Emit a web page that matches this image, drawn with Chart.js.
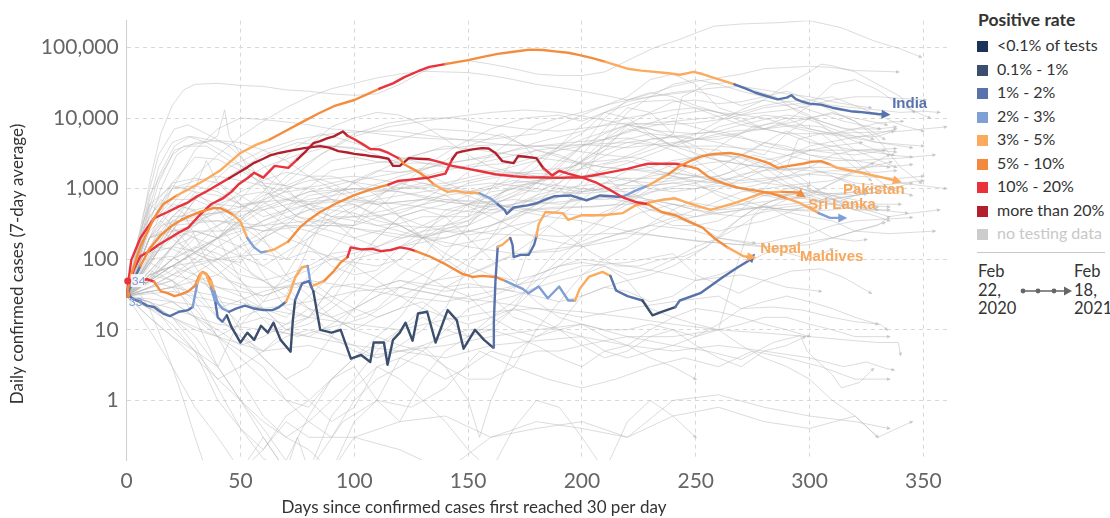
<!DOCTYPE html>
<html>
<head>
<meta charset="utf-8">
<script src="https://cdn.jsdelivr.net/npm/chart.js@4"></script>
<style>
  body { margin: 0; background: #fff; font-family: Lato, sans-serif; }
  #wrap { position: relative; width: 1110px; height: 518px; overflow: hidden; }
  #chart { position: absolute; left: 0; top: 0; }
  #legend { position: absolute; left: 977px; top: 0; width: 133px; color: #333; }
  #legend .ttl { position: absolute; top: 9px; left: 1px; font-weight: bold; font-size: 17.5px; white-space: nowrap; }
  #legend .it { position: absolute; left: 0; height: 20px; line-height: 20px; font-size: 16px; white-space: nowrap; }
  #legend .sw { display: inline-block; width: 11px; height: 11px; margin-right: 9px; vertical-align: -1px; }
  #legend .rule { position: absolute; left: 0; top: 252px; width: 128px; border-top: 1px solid #c8c8c8; }
  .time { position: absolute; top: 262px; font-size: 16.5px; line-height: 18.5px; color: #333; }
  #arrow { position: absolute; left: 1019px; top: 285px; }
</style>
</head>
<body>
<div id="wrap">
  <canvas id="chart" width="965" height="518"></canvas>
  <div id="legend">
    <div class="ttl">Positive rate</div>
    <div class="it" style="top:35px"><span class="sw" style="background:#1b3358"></span>&lt;0.1% of tests</div>
    <div class="it" style="top:58.5px"><span class="sw" style="background:#3c4e6d"></span>0.1% - 1%</div>
    <div class="it" style="top:82px"><span class="sw" style="background:#5873ab"></span>1% - 2%</div>
    <div class="it" style="top:105.5px"><span class="sw" style="background:#7f9fd5"></span>2% - 3%</div>
    <div class="it" style="top:129px"><span class="sw" style="background:#fbaa5e"></span>3% - 5%</div>
    <div class="it" style="top:152.5px"><span class="sw" style="background:#f2893d"></span>5% - 10%</div>
    <div class="it" style="top:176px"><span class="sw" style="background:#e8323c"></span>10% - 20%</div>
    <div class="it" style="top:199.5px"><span class="sw" style="background:#b3202d"></span>more than 20%</div>
    <div class="it" style="top:223px;color:#c8c8c8"><span class="sw" style="background:#cccccc"></span>no testing data</div>
    <div class="rule"></div>
  </div>
  <div class="time" style="left:978px">Feb<br>22,<br>2020</div>
  <svg id="arrow" width="54" height="12">
    <line x1="3" y1="6" x2="46" y2="6" stroke="#666" stroke-width="1.4"/>
    <circle cx="4" cy="6" r="2.4" fill="#666"/>
    <circle cx="19" cy="6" r="2.4" fill="#666"/>
    <circle cx="35" cy="6" r="2.4" fill="#666"/>
    <polygon points="45,1.5 53,6 45,10.5" fill="#666"/>
  </svg>
  <div class="time" style="left:1074px">Feb<br>18,<br>2021</div>
</div>

<script>
// positive-rate bands: <0.1, 0.1-1, 1-2, 2-3, 3-5, 5-10, 10-20, >20
const rateColors = ['#1b3358', '#3c4e6d', '#5873ab', '#7f9fd5', '#fbaa5e', '#f48c3e', '#e8323c', '#b3202d'];

const xTicks = [0, 50, 100, 150, 200, 250, 300, 350];
const yTicks = [1, 10, 100, 1000, 10000, 100000];

const indiaDays = [0,2,6,12,16,22,27,34,41,50, 57,63,70,76,84,91,100,106,111,117, 122,128,133,140,150,157,163,170,177,183, 188,194,199,205,210,215,220,226,232,238, 243,246,249,253,258,263,267,272,276,281, 286,290,292,294,297,300,305,310,314,318, 322,326,330,334];
const indiaCases = [32,60,150,380,600,800,970,1300,1800,3200, 4200,5000,6600,8400,11500,14700,18000,22000,26000,31000, 38000,46000,53000,58000,66000,74000,81000,87000,93000,92000, 88000,84000,78000,70000,63000,56000,50000,47000,45000,43000, 41000,43000,45000,42000,37000,33000,30000,26000,23000,20500, 18400,19500,21000,18500,17000,16000,15500,14000,13200,12500, 12200,11800,11400,11200];
const indiaRate = [5,5,5,5,5,5,4,4,4,4, 4,4,5,5,5,5,5,5,5,6, 6,6,6,6,5,5,5,5,5,5, 5,5,5,5,5,4,4,4,4,4, 4,4,4,4,4,4,4,2,2,2, 2,2,2,2,2,2,2,2,2,2, 2,2,2,2];

const pakDays = [0,3,6,10,14,19,23,27,32,37, 42,46,49,53,56,60,65,71,75,78, 82,85,88,91,95,97,100,104,107,111, 115,120,122,125,129,132,135,138,141,145, 149,152,155,160,163,166,167,170,173,176, 180,183,188,192,195,199,202,205,208,213, 217,220,223,229,233,238,243,248,253,258, 265,270,277,282,286,291,297,301,305,309, 312,316,320,324,327,333,339];
const pakCases = [32,70,110,130,160,200,240,280,420,600, 720,900,1140,1400,1680,1430,2100,1970,2600,3200, 4400,4700,5150,5500,6450,5600,5000,4200,3640,3600, 3200,2630,2200,1950,1650,1400,1150,1000,900,930, 870,880,860,720,600,500,440,540,560,580, 620,680,780,790,800,730,680,740,800,780, 760,820,920,1100,1300,1600,2100,2500,2900,3100, 3200,3000,2600,2300,1970,2100,2250,2400,2450,2200, 1970,1850,1750,1650,1560,1420,1270];
const pakRate = [6,6,6,6,6,6,6,6,6,6, 6,6,6,6,6,6,6,6,6,7, 7,7,7,7,7,7,6,6,6,6, 6,6,5,5,5,5,5,4,4,4, 4,4,4,3,3,2,2,2,2,2, 2,2,2,2,2,2,2,2,2,2, 2,3,3,3,4,4,5,5,5,5, 5,5,5,5,5,5,5,5,5,5, 4,4,4,4,4,4,4];

const bgdDays = [0,2,6,12,18,23,27,31,35,41, 45,49,53,56,60,63,67,71,75,78, 82,85,89,93,97,100,104,107,111,115, 117,120,124,128,133,138,143,150,156,162, 170,176,183,190,195,200,206,212,220,225, 229,235,241,246,251,256,262,268,275,283, 290,295,300,304,309,315];
const bgdCases = [32,97,200,380,466,560,640,780,910,1180, 1400,1680,2000,2320,2650,2960,3200,3400,3600,3750, 3900,4000,3800,3400,3250,3100,3000,2900,2800,2650, 2100,2100,2700,2650,2600,2350,2100,1900,1750,1600, 1500,1450,1440,1420,1440,1440,1560,1700,1900,2100, 2250,2250,2250,2100,1900,1430,1200,1040,950,860, 730,640,530,450,385,385];
const bgdRate = [6,6,6,6,6,6,6,6,6,6, 6,7,7,7,7,7,7,7,7,7, 7,7,7,7,7,7,7,7,7,7, 7,7,7,7,7,6,6,6,6,6, 6,6,6,6,6,6,6,6,6,6, 6,6,6,6,5,5,5,5,5,5, 5,4,4,4,3,3];

const nepDays = [0,3,6,10,15,20,24,27,32,38, 41,44,47,50,53,56,59,62,65,71, 76,80,85,93,100,107,115,119,126,133, 140,143,145,148,152,156,159,162,165,170, 172,176,180,183,187,190,194,200,206,212, 218,224,229,235,241,247,253,258,264,271, 275];
const nepCases = [32,50,80,140,220,300,360,400,466,530, 530,480,420,340,200,147,125,130,138,178, 280,360,466,640,810,970,1140,1280,1350,1440, 1630,2600,3200,3400,3600,3750,3700,3200,2450,2300, 2900,2800,2700,1960,1530,1790,1630,1440,1230,970, 750,640,600,466,420,340,280,200,147,110, 107];
const nepRate = [2,2,2,5,5,5,5,5,5,5, 5,5,5,4,4,3,3,3,4,4, 5,5,5,5,5,5,5,6,6,6, 6,6,7,7,7,7,7,7,7,7, 7,7,7,7,6,6,6,6,6,6, 6,6,6,5,5,5,5,5,5,4, 4];

const slkDays = [0,3,6,9,12,16,19,23,27,29, 31,33,35,37,39,40,42,44,46,50, 53,56,59,62,64.5,67.6,72,73,74,77, 80,82,85,90,94,98.5,103,107,108.5,113, 114.6,117,120,122.5,125.6,128,132,135.7,141,145, 148,153,157,161,161.3,162,163,165,168.5,169.5, 170,173,176.6,179,180,181,184,191.5,194,200, 209,218,223.6,230,236,241,247,256.5,262,268, 274,280,288,295,297];
const slkCases = [33,27,25,22,21,17,15.6,18,19,21, 45,66,60,40,24,15,13,16,11,6.6, 9.1,7.2,11.4,9.1,12.6,7.2,4.9,13.7,26.5,45, 49,35,10,9.1,10,3.9,4.4,3.5,6.6,6.6, 3.2,7.2,9.1,12.6,7,17,18,6.6,19,13.7, 5.4,10,7.2,5.6,13,49,150,160,200,160, 107,115,115,160,210,315,466,450,360,420, 420,450,580,640,700,730,620,500,560,640, 750,880,900,880,800];
const slkRate = [2,2,2,2,2,2,2,2,2,2, 3,4,4,4,3,2,2,2,1,1, 1,1,1,1,1,1,1,1,1,2, 2,2,1,1,1,1,1,1,1,1, 1,1,1,1,1,1,1,1,1,1, 1,1,1,1,2,2,2,4,4,2, 2,2,2,2,2,4,4,4,4,4, 4,4,4,4,4,4,4,4,4,4, 4,4,4,5,5];

const mdvDays = [0,3,6,9,12,15,18,21,24,27, 30,32,33.5,35,37,38.5,40,42,45,48, 52,56,60,64,67,70,72,74,77,79.5, 81,84,87,91,94,97,98.4,103,108,111.5, 116,120,124,127,133,140,147.5,152,156,162, 166.5,171,174,176.5,181,185,190,194,197,199, 203,209,212.5,215,220,226.6,231,235,241,243, 252,262,268,273,275];
const mdvCases = [36,45,50,52,48,35,33,30,32,35, 42,60,66,62,50,35,24,20,18,20, 22,20,19,19,21,25,35,55,77,80, 41,45,50,68,90,107,147,138,140,130, 135,147,140,130,110,85,62,56,58,56, 49,42,38,33,41,28,41,26,26,38, 56,66,58,36,30,26,16,18,21,26, 33,56,75,94,110];
const mdvRate = [5,6,6,6,6,5,5,5,5,5, 5,5,5,5,5,4,3,3,3,2, 2,2,2,2,2,2,4,4,4,4, 3,4,4,5,5,5,6,6,6,6, 6,6,6,6,5,5,5,5,5,5, 5,3,3,3,3,3,3,3,3,4, 4,4,4,2,2,2,1,1,1,2, 2,2,2,2,2];

// other countries, no highlight: [day, cases, day, cases, ...]
const greyCurves = [
  [0,30,5,150,10,1200,15,6000,20,15000,25,25000,30,30000,40,31000,50,29000,60,28000,70,25000,80,24000,90,22000,100,21000,110,22000,120,30000,130,45000,140,60000,150,65000,160,58000,170,50000,180,42000,190,40000,200,40000,210,45000,222,70000,232,100000,243,130000,250,160000,258,200000,270,215000,287,225000,300,240000,314,190000,328,125000,340,95000,349,73000],
  [0,30,10,200,20,600,30,1500,40,3000,50,5500,60,9000,70,14000,80,20000,90,26000,100,31000,110,37000,120,42000,130,46000,140,45000,150,44000,160,40000,170,35000,180,30000,190,27000,200,24000,210,21000,220,18000,230,22000,240,28000,250,33000,260,37000,270,42000,280,50000,290,52000,300,54000,310,52000,320,47000,330,46000,339,45000],
  [0,30,8,200,15,1000,22,3000,30,4500,40,4800,50,4500,60,3500,70,2500,80,1500,90,1000,100,700,110,600,120,650,130,700,140,800,150,900,160,1000,170,1500,180,2500,190,4000,200,6000,210,12000,220,17000,230,20000,240,22000,250,24000,260,20000,270,15000,280,18000,290,30000,300,45000,305,58000,310,55000,320,45000,330,30000,340,20000,346,12000],
  [0,30,7,250,14,1500,21,4000,28,5500,35,5000,45,4300,55,3000,65,1500,75,700,85,400,95,300,105,250,120,200,135,230,150,350,165,900,180,1300,190,1500,200,2500,210,5000,220,12000,230,20000,240,30000,250,35000,260,30000,270,24000,280,20000,290,17000,300,18000,310,15000,320,14000,330,13000,340,12000,350,12500,357,12000],
  [0,30,7,200,14,1200,21,3500,28,4200,35,4500,40,5600,43,13000,45,5600,50,3000,55,1500,65,700,75,400,85,350,100,400,115,500,130,700,145,1300,160,3000,170,5000,180,8000,190,10000,200,12000,210,15000,220,20000,230,35000,240,42000,250,30000,260,14000,270,11000,280,12000,290,13000,300,15000,310,18000,320,20000,330,20000,340,19000,351,18000],
  [0,30,7,400,14,3000,21,7000,27,8000,35,6000,45,4000,55,2000,65,700,75,400,85,300,100,300,115,700,130,2000,145,4000,160,7000,175,10000,190,11000,200,9000,210,12000,225,17000,240,18000,255,12000,270,8000,280,7000,290,9000,300,15000,310,30000,320,35000,330,25000,340,15000,353,10000],
  [0,30,7,300,14,2000,20,4500,27,5500,35,4500,45,3000,55,1500,65,900,75,600,90,400,105,400,120,450,135,700,150,1200,165,1500,180,1800,195,2000,210,3500,220,8000,230,12000,240,17000,250,18000,260,16000,270,17000,280,20000,290,24000,300,18000,310,20000,320,15000,330,11000,340,8000,350,6500],
  [0,30,10,200,20,1000,30,3500,40,7000,50,10000,60,9500,70,8800,80,8000,90,7000,100,6600,110,6000,120,5500,130,5200,140,5000,150,4900,160,5000,170,5500,180,6000,190,8000,200,11000,210,15000,220,18000,230,20000,240,23000,250,25000,260,27000,270,28000,280,25000,290,22000,300,20000,310,17000,320,15000,327,14000],
  [0,30,15,150,30,700,45,2000,60,3500,75,5000,90,6000,105,6500,120,6500,135,5500,150,4800,165,4200,180,4000,195,4500,210,5000,225,7000,240,9000,255,10000,270,12000,280,15000,290,17000,300,13000,315,9000,331,7000],
  [0,30,10,500,20,1200,30,2800,40,2600,50,1800,60,1200,70,1100,80,1500,90,2500,100,2800,110,2400,120,2300,130,2300,140,2200,150,2000,160,2200,170,2300,180,2800,190,3500,200,4000,210,5000,220,6500,240,11000,255,13000,270,10000,280,7000,290,6000,300,6000,320,6200,340,6500,360,7500],
  [0,30,10,800,20,3000,25,4000,35,4000,45,2500,55,1800,65,1200,75,1000,85,1100,95,1300,110,1100,125,1000,140,1100,155,1400,170,1700,185,1600,200,1900,215,2500,230,4000,240,6000,244,20000,255,30000,265,32000,275,25000,285,20000,295,12000,305,9000,315,7000,330,7000,338,7500],
  [0,30,20,100,40,200,55,500,70,1500,85,3000,100,5500,115,7500,130,9000,145,10500,160,12000,175,13000,190,12000,205,10000,220,8000,235,6500,250,6000,260,6500,270,8000,280,9500,290,11000,300,10000,310,8000,320,6500,328,5000],
  [0,30,20,80,40,200,55,500,70,1200,85,3000,100,6000,115,8500,130,10000,145,10000,160,8000,175,7000,190,6500,205,7500,220,8500,235,8000,250,8500,265,10000,280,14000,295,16000,305,15000,320,9000,333,5000],
  [0,30,20,150,40,300,60,550,80,900,100,1300,120,1700,140,2200,160,3000,180,4000,200,4200,220,3800,240,4500,260,5500,280,7000,300,10000,310,11500,320,10000,334,8000],
  [0,30,20,350,40,350,60,300,80,350,100,300,120,500,140,700,160,650,180,1200,200,4000,210,10000,220,18000,230,23000,240,20000,250,15000,260,12000,270,11000,280,10000,290,8000,300,7000,310,6000,320,5500,330,5500,337,6500],
  [0,30,10,90,20,60,30,100,40,200,50,500,60,900,70,2000,80,4000,90,7500,100,10000,110,12000,120,11000,130,8000,140,5000,150,3000,160,2000,170,1700,180,1500,190,1400,200,1500,210,1800,220,2300,235,3500,250,6000,260,9000,270,13000,280,18000,290,15000,300,11000,310,6000,320,3500,338,2000],
  [0,30,15,150,30,700,45,1500,60,3000,75,4500,90,4000,105,3500,120,5000,135,7000,150,6500,165,5500,180,3500,195,2500,210,2000,225,1800,240,1500,255,1200,270,1500,285,2500,300,4000,315,5000,330,6000,338,7000],
  [0,30,10,200,20,270,30,200,40,100,50,60,60,50,70,60,80,80,90,120,110,150,130,250,150,300,170,1200,180,2000,190,4000,200,8000,210,12000,220,10000,230,6000,240,4000,250,5000,260,7500,270,9000,280,11000,290,10000,300,7000,310,6000,320,7000,330,8500,341,9000],
  [0,30,10,300,20,1200,30,1400,40,1200,50,800,60,500,70,300,80,150,90,100,100,90,110,80,120,100,130,200,140,500,150,600,160,500,170,500,180,800,190,1500,200,3000,210,7000,220,14000,230,12000,240,6000,250,3000,260,2500,270,2200,280,2000,290,1800,300,2000,320,2000,340,2100,345,2200],
  [0,30,10,400,20,1000,30,1100,40,900,50,600,60,300,70,200,80,150,90,80,100,60,110,70,120,150,140,400,160,600,180,1000,190,2000,200,4000,210,6000,220,8000,230,7000,240,5500,250,5000,260,5000,270,6000,280,8000,290,10000,300,9500,310,7000,320,5500,330,4500,350,4000],
  [0,30,20,400,40,450,60,500,80,700,100,900,120,1500,140,2300,160,2800,180,4500,200,6500,220,10000,240,13000,250,14000,260,12000,270,9000,280,7000,290,6000,300,4500,310,4000,323,4500],
  [0,30,20,300,40,350,60,250,80,300,100,700,120,1000,140,1200,160,1700,180,2500,200,5000,220,8000,240,9000,260,6000,280,4500,300,3000,320,2500,340,2700,355,3000],
  [0,30,10,150,20,400,25,550,35,400,45,200,55,60,65,40,75,40,85,80,95,200,105,500,115,1000,125,1300,135,1100,145,900,160,600,175,500,190,550,205,550,215,600,225,900,235,1500,245,2000,255,2300,265,2500,275,3500,285,5500,290,6500,300,5000,310,3500,320,2000,327,1300],
  [0,30,10,300,20,1000,30,1300,40,1500,50,1300,60,1100,70,900,80,600,90,400,100,350,110,300,120,320,130,400,150,400,170,800,180,1200,190,1800,200,2300,220,2700,235,4000,250,5000,265,6500,280,7000,295,8000,305,7500,315,5500,325,4000,335,3000,345,2800],
  [0,30,20,250,40,250,60,300,80,500,100,1200,120,2500,140,4000,155,3500,170,3000,190,2500,210,2000,230,1800,250,1500,270,1300,290,1500,310,1800,330,1700,338,1800],
  [0,30,20,150,40,700,60,2000,75,3000,90,4000,100,3800,110,3000,125,2000,140,1200,155,800,170,500,185,400,200,350,220,250,240,200,260,170,280,150,300,160,320,250,333,330],
  [0,30,10,300,20,600,30,500,40,200,50,50,60,25,70,30,80,150,90,600,100,1300,110,1800,120,1700,130,1800,140,2500,150,4000,165,6000,175,4000,185,1500,195,700,210,700,225,800,240,1500,255,3000,265,5000,275,7500,285,8500,295,7000,305,6000,315,5500,330,4500,345,3800],
  [0,30,15,300,30,400,45,500,60,1500,75,4000,85,6000,95,5000,110,3500,125,2500,140,2000,160,1800,180,1500,200,1500,220,1400,240,1400,260,1500,280,2500,300,3500,320,3500,338,3700],
  [0,30,20,40,40,60,60,200,75,800,90,1800,105,2200,120,2600,135,3500,150,4000,165,4200,180,4000,195,3500,210,3000,225,2700,240,2000,260,1200,280,800,300,850,315,1400,328,2300],
  [0,30,20,80,40,200,60,600,80,1500,90,1500,100,1200,110,800,120,400,130,200,150,150,170,120,190,130,210,200,230,300,250,500,270,900,290,1100,310,800,330,600,340,600],
  [0,30,20,100,30,200,40,150,60,80,80,200,100,500,120,1200,140,1800,160,2500,180,3500,200,4200,220,4500,240,4000,260,3500,280,1500,300,800,320,500,330,500],
  [0,30,10,600,20,1100,30,900,40,500,50,200,60,60,70,20,80,15,90,40,100,100,120,150,140,200,160,300,180,500,200,1200,210,5000,220,8000,230,5500,240,4000,260,4000,280,3500,300,2500,320,1800,340,1200,360,1000],
  [0,30,8,300,15,700,25,450,35,100,45,50,55,40,65,40,75,60,90,100,110,150,130,300,150,600,170,1000,190,1500,210,4000,220,7000,230,6000,240,4000,260,2500,280,2000,300,1800,320,1500,340,1400,350,1500],
  [0,30,10,300,20,700,30,700,40,500,50,300,60,250,70,300,80,300,90,300,110,250,130,200,150,300,170,600,190,900,200,2000,215,3500,230,5000,245,5500,260,4500,280,3000,290,6000,300,10000,310,12000,320,9000,330,5000,340,2000,349,1200],
  [0,30,10,200,20,500,30,1000,35,2500,40,1200,50,600,60,400,70,500,80,800,90,900,100,1000,110,900,120,1000,130,1200,140,1000,150,900,160,1100,170,1300,180,1200,190,1000,200,900,210,1200,220,1400,230,1000,240,900,250,1000,260,1100,270,1000,280,1200,290,1400,300,1600,310,1500,320,1200,330,1100,336,1000],
  [0,30,10,100,20,350,30,500,40,600,50,550,60,700,70,900,80,1000,90,700,100,400,110,300,120,250,130,200,140,200,150,250,160,300,170,400,180,600,190,1200,200,2000,210,3500,220,4500,230,5000,240,5500,250,6000,260,6500,270,5500,280,4000,290,3500,300,3500,310,3200,320,3000,333,3500],
  [0,30,10,200,15,250,25,150,35,100,45,50,55,20,65,10,75,8,85,10,95,12,105,15,120,30,135,50,150,60,165,100,180,130,195,150,210,250,225,450,240,600,255,450,270,400,285,500,300,400,310,350,320,250,335,230,355,250],
  [0,30,10,100,20,200,30,250,40,200,50,150,60,80,70,50,80,40,90,25,100,15,110,20,120,40,130,60,145,120,160,300,175,500,190,450,205,400,220,650,235,1000,250,1200,265,1700,275,3000,285,2500,295,1500,305,900,315,600,330,500,343,450],
  [0,30,10,60,20,50,30,25,40,8,50,2,60,0.6,70,0.3,80,0.2,90,0.1,100,0.5,110,1,120,4,130,6,140,3,150,2,160,2,170,3,180,10,190,25,200,60,210,80,220,50,230,20,240,15,250,12,260,10,270,6,280,4,290,3,300,2,310,1,320,0.6,330,0.3,345,0.5],
  [0,30,10,70,20,50,30,15,40,3,50,1,60,0.3,70,0.1,80,0.1,95,0.5,110,1,125,0.8,140,1.5,155,5,170,3,185,2,200,1.5,215,2,230,3,245,4,260,3,275,5,290,4,305,3,320,2,335,2],
  [0,30,10,250,15,350,20,250,30,80,40,25,50,12,60,15,70,12,80,15,90,25,100,80,110,200,120,400,130,500,140,400,150,200,160,100,170,50,180,25,190,15,200,12,210,10,220,10,230,12,240,10,250,8,260,10,270,12,280,15,290,15,300,12,310,10,320,8,335,8],
  [0,30,5,200,10,600,15,450,20,300,30,120,40,90,50,50,60,20,70,10,80,15,90,40,100,45,110,40,120,50,130,40,140,35,150,40,160,40,170,35,175,100,180,250,185,300,195,200,205,120,215,80,225,80,235,100,245,110,255,150,265,300,275,500,285,700,295,1000,305,900,315,700,325,500,335,400,345,450,357,500],
  [0,30,10,100,20,110,30,60,40,30,50,10,60,4,70,2,80,1,90,0.5,100,0.8,110,3,120,4,130,3,140,2,150,3,160,5,170,4,180,5,190,5,200,6,210,7,220,8,240,8,260,10,268,80,275,400,280,600,290,400,300,300,310,200,320,250,330,300,335,400],
  [0,30,10,150,20,140,30,100,40,60,50,40,60,30,70,40,80,20,90,8,100,5,110,4,120,5,130,6,140,8,150,10,160,10,170,20,180,60,190,150,200,250,210,400,220,700,230,900,240,1000,250,1000,260,1200,270,1600,280,1800,290,2500,300,3500,310,4000,320,3500,330,3200,337,3000],
  [0,30,10,80,20,300,30,900,40,800,50,600,60,650,70,400,80,300,90,250,100,200,110,250,120,300,130,200,140,100,150,60,160,30,170,15,180,12,190,10,200,8,210,5,220,4,230,5,240,6,250,8,260,12,270,20,280,25,290,30,300,25,310,20,320,15,330,12],
  [0,30,10,200,20,400,30,800,40,600,50,400,60,200,70,60,80,30,90,15,100,10,110,15,120,20,130,40,140,60,150,100,160,150,170,250,180,350,190,500,200,900,210,1000,220,700,230,400,240,300,250,300,260,350,270,500,280,1000,290,2000,295,5000,305,6000,315,3500,325,1800,335,1000,345,800],
  [0,30,10,60,20,80,30,40,40,15,50,8,60,5,70,10,80,12,90,20,100,35,110,60,120,100,130,200,140,250,150,220,160,250,170,300,180,350,190,500,200,1000,210,2200,220,2500,230,2000,240,1500,250,1200,260,800,270,600,280,500,290,550,300,600,310,700,320,800,330,900,345,1200],
  [0,30,10,20,20,15,30,10,40,8,50,12,60,25,70,60,80,200,90,400,100,550,110,700,120,800,130,900,140,1000,150,1100,160,1200,170,1100,180,1000,190,900,200,850,210,900,220,1000,230,1100,240,1200,250,1100,260,900,270,700,280,550,290,500,300,500,305,520],
  [0,30,10,120,20,150,30,130,40,100,50,150,60,200,70,300,80,600,90,900,100,1000,110,1000,120,900,130,750,140,650,150,600,160,550,170,600,180,700,190,800,200,900,210,1000,220,1200,230,1600,240,2200,250,2800,260,3000,270,2700,280,2000,290,1200,300,900,310,700,320,600,335,550],
  [0,30,10,60,20,150,30,300,40,600,50,800,60,900,70,700,80,650,90,700,100,650,110,600,120,650,130,700,140,650,150,600,160,650,170,700,180,650,190,600,200,700,210,750,220,650,230,500,240,400,250,300,260,250,270,300,280,350,290,450,300,600,310,800,320,900,327,1000],
  [0,30,10,200,20,250,30,300,40,500,50,900,60,1300,70,1700,80,1500,90,1200,100,800,110,600,120,400,130,300,140,250,150,250,160,230,170,220,180,220,190,210,200,220,210,230,220,230,230,220,240,200,250,180,260,170,270,160,280,170,290,200,300,230,310,300,320,350,340,380,345,390],
  [0,30,10,50,20,150,30,350,40,450,50,550,60,650,70,700,80,600,90,500,100,450,110,350,120,300,130,280,140,300,150,350,160,500,170,600,180,800,190,1000,200,1100,210,1200,220,1100,230,1100,240,1200,250,1300,260,1200,270,1200,280,1300,290,1500,300,2000,310,3000,320,3500,330,3500,338,3300],
  [0,30,10,60,20,80,30,120,40,200,50,300,60,180,70,100,80,250,90,350,100,200,110,150,120,80,130,60,140,40,150,30,160,15,170,10,180,8,190,12,200,30,210,40,220,35,230,25,240,30,250,50,260,60,270,80,280,120,290,150,300,180,310,200,320,180,325,190],
  [0,30,10,50,20,100,30,250,40,200,50,250,60,350,70,500,80,600,90,700,100,600,110,400,120,300,130,200,140,120,150,80,160,60,170,50,180,60,190,80,200,90,210,80,220,60,230,70,240,100,250,150,260,200,270,300,280,500,290,700,300,750,310,600,315,580],
  [0,30,20,40,40,100,60,250,80,500,100,600,120,300,140,150,160,200,180,600,200,1000,220,900,240,500,260,200,280,150,300,100,310,140],
  [0,30,10,50,20,80,30,90,40,100,50,110,60,120,70,100,80,130,90,110,100,80,110,50,120,30,130,20,140,15,150,12,160,15,170,20,180,40,190,80,200,150,210,200,220,250,230,300,240,280,250,250,260,200,270,180,276,170],
  [0,30,10,15,20,8,30,5,40,2,50,1,60,0.5,70,0.3,80,0.5,90,1,100,2,110,5,120,10,130,15,140,10,150,8,160,15,170,25,180,50,190,100,200,200,210,400,220,600,230,700,240,600,250,500,260,450,270,500,280,550,290,500,300,480,310,500,320,550,330,550],
  [0,30,10,40,20,50,30,30,40,15,50,8,60,4,70,2,80,3,90,8,100,20,110,40,120,50,130,45,140,40,150,45,160,40,170,35,180,30,190,25,200,30,210,40,220,50,230,60,240,80,250,120,260,200,270,400,280,600,290,800,300,900,310,850,320,800,325,850],
  [0,30,10,25,20,15,30,6,40,1.5,50,0.4,60,0.15,70,0.1,75,0.3,80,0.1,90,0.6,100,1.5,110,3,120,2,130,1,140,0.5,150,0.2,160,0.1,170,0.4,180,1,190,0.8,200,0.3,210,0.1,220,0.5,230,1,240,0.6,250,0.3],
  [0,30,10,50,20,40,30,20,40,8,50,4,60,2,70,1,80,0.5,90,0.3,100,1,110,2,120,3,130,5,140,10,150,20,160,25,170,30,180,40,190,50,200,60,210,100,220,150,230,250,240,350,250,400,260,450,270,500,280,550,290,500,300,550,310,600,320,800,330,1100,350,1300],
  [0,30,10,35,20,25,30,15,40,8,50,5,60,3,70,1,80,0.8,90,2,100,4,110,6,120,10,130,20,140,40,150,60,160,80,170,120,180,200,190,400,200,700,210,1200,220,1800,230,2000,240,2500,250,2800,260,3000,270,2800,280,2200,290,1500,300,1000,310,700,320,500,335,500],
  [0,30,10,20,20,12,30,5,40,1,50,0.4,60,0.2,70,0.6,80,1,90,2,100,4,110,8,120,15,130,40,140,120,150,300,160,700,170,1100,180,1200,190,1100,200,1000,210,900,220,1200,230,1500,240,1700,250,1500,260,1200,270,1000,280,900,290,800,300,700,310,600,320,500,330,400,335,350],
  [0,30,10,15,20,8,30,4,40,2,50,3,60,5,70,8,80,10,90,8,100,6,110,4,120,6,130,10,140,20,150,80,160,200,170,600,180,1200,190,2500,200,4000,210,5000,220,5200,230,4500,240,3500,250,2500,260,1500,270,1000,280,800,290,700,300,800,310,1200,320,1800,330,2500,335,3000],
  [0,30,10,25,20,10,30,5,40,3,50,15,60,20,70,15,80,30,90,60,100,100,110,200,120,400,130,500,140,600,150,800,160,1000,170,1200,180,1300,190,1400,200,1500,210,1500,220,1300,230,1200,240,1300,250,1500,260,2000,270,3000,280,4500,290,4000,300,3000,310,2500,320,2500,330,2200,335,2000],
  [0,30,20,50,40,150,60,350,80,600,100,700,120,600,140,500,160,450,180,600,200,700,220,800,240,600,260,500,280,550,300,650,320,800,330,900],
  [0,30,20,80,40,200,60,500,80,900,100,1000,120,900,140,700,160,600,180,500,200,550,220,600,240,700,260,550,280,650,300,800,320,900,325,900],
  [0,30,20,70,40,300,60,800,80,1300,100,1500,120,1200,140,800,160,400,180,200,200,150,220,200,240,500,260,1000,280,1800,300,2000,310,1500,320,1100],
  [0,30,10,25,20,15,30,8,40,3,50,1,60,0.4,70,0.14,80,0.6,90,2,100,3,110,1,120,0.5,130,2,140,5,150,8,160,10,170,8,180,6,190,4,200,3,210,5,220,6,230,4,240,3,250,2],
  [0,30,10,60,20,80,30,60,40,40,50,30,60,20,70,10,80,8,90,12,100,20,110,30,120,60,130,100,140,300,150,600,160,900,170,1000,180,900,190,1200,200,2500,210,4000,220,5000,230,6000,240,5500,250,4000,260,2500,270,1500,280,1200,290,1100,300,1200,310,1300,320,1800,336,2400],
  [0,30,10,40,20,60,30,80,40,100,50,90,60,200,70,300,80,250,90,200,100,150,110,120,120,150,130,200,140,300,150,400,160,1000,170,2500,180,3500,190,3000,200,2200,210,1500,220,800,230,500,240,450,250,400,260,500,270,600,280,800,290,1000,300,1100],
  [0,30,5,35,10,20,15,8,20,3,25,1,30,0.3,35,0.1,50,0.1,60,0.3,70,0.1,90,0.1,100,0.3,120,0.2,140,0.1,160,0.3,180,0.5,200,0.4,220,0.3,240,0.6,260,0.8,280,0.5,300,0.4,320,0.6,330,0.3],
  [0,30,10,10,20,3,30,0.8,40,0.3,50,0.1,60,0.2,70,0.5,80,0.3,100,0.3,120,0.5,140,0.6,160,0.3,180,0.4,200,0.5,220,0.3,240,1,260,1.2,280,0.8,300,0.6,320,0.5,335,0.4],
  [0,30,10,20,20,25,30,15,40,10,50,6,60,8,70,12,80,20,90,15,100,10,110,8,120,6,130,5,140,3,150,1,155,0.3,160,1,170,5,180,8,190,10,200,12,210,8,220,6,230,10,240,15,250,20,260,18,270,15,280,12,290,10,300,8],
  [0,30,10,40,20,60,30,50,40,40,50,35,60,30,70,40,80,50,90,30,100,20,110,15,120,20,130,25,140,15,150,8,160,12,170,20,180,15,190,10,200,6,210,4,220,5,230,8,240,10,250,6,260,4,270,3,280,5,290,6,298,8],
  [0,30,10,50,20,100,30,150,40,120,50,80,60,50,70,30,80,20,90,15,100,20,110,30,120,40,130,35,140,30,150,25,160,30,170,40,180,60,190,80,200,100,210,90,220,80,230,70,240,60,250,50,260,55,270,60,280,50,290,40,305,35],
  [0,30,20,25,40,20,60,35,80,50,100,40,120,30,140,25,160,35,180,50,200,80,220,90,240,120,250,60,269,33,280,50,292,68,305,73,315,55,327,33],
  [0,30,20,40,40,30,60,20,80,25,100,35,120,40,140,30,160,25,180,20,200,15,220,20,240,25,260,30,270,20,284,21,297,19,310,15,320,13,331,12,334,10],
  [0,30,20,15,40,8,60,5,80,6,100,4,120,5,140,6,160,8,180,10,200,12,220,8,240,6,255,5,270,3.8,284,6.6,296,8.3,299,4.9,310,2.3,314,1.5,322,1.8,328,2.8],
  [0,30,20,20,40,12,60,10,80,8,100,6,120,5,140,4,160,6,180,7,200,8,220,6,240,5,260,6,280,5,300,4,315,3,325,3.5,334,2.8,337,2.7],
  [0,30,20,35,40,25,60,20,80,15,100,12,120,10,140,14,160,18,180,20,200,18,220,15,240,12,260,10,280,9,300,8,320,7,330,6.6,339,6.6,340,4.4]
];

const countryLabels = [
  { name: 'India', day: 336.3, cases: 16100, color: '#5873ab' },
  { name: 'Pakistan', day: 314.7, cases: 960, color: '#f7a85c' },
  { name: 'Sri Lanka', day: 299.4, cases: 580, color: '#f7a85c' },
  { name: 'Nepal', day: 278.3, cases: 140, color: '#f7a85c' },
  { name: 'Maldives', day: 295.8, cases: 109, color: '#f7a85c' }
];

function toPoints(days, cases) {
  return days.map((d, i) => ({ x: d, y: cases[i] }));
}

function pairsToPoints(arr) {
  const out = [];
  for (let i = 0; i < arr.length; i += 2) out.push({ x: arr[i], y: arr[i + 1] });
  return out;
}

function countrySet(days, cases, rate) {
  const last = rateColors[rate[rate.length - 1]];
  return {
    data: toPoints(days, cases),
    borderColor: last,
    borderWidth: 2.4,
    segment: { borderColor: c => rateColors[rate[c.p1DataIndex]] },
    pointRadius: c => (c.dataIndex === 0 ? 3.5 : 0),
    pointBackgroundColor: rateColors[rate[1]],
    pointBorderWidth: 0,
    arrowSize: 6,
    arrowColor: last
  };
}

const datasets = [
  countrySet(indiaDays, indiaCases, indiaRate),
  countrySet(nepDays, nepCases, nepRate),
  countrySet(pakDays, pakCases, pakRate),
  countrySet(bgdDays, bgdCases, bgdRate),
  countrySet(slkDays, slkCases, slkRate),
  countrySet(mdvDays, mdvCases, mdvRate)
];
greyCurves.forEach(c => {
  datasets.push({
    data: pairsToPoints(c),
    borderColor: 'rgba(185,185,185,0.5)',
    borderWidth: 1,
    pointRadius: 0,
    arrowSize: 2.6,
    arrowColor: 'rgba(180,180,180,0.6)'
  });
});

// small arrowhead at the end of every line
const arrowHeads = {
  id: 'arrowHeads',
  afterDatasetDraw(chart, args) {
    const pts = args.meta.data;
    if (pts.length < 2) return;
    const a = pts[pts.length - 2], b = pts[pts.length - 1];
    const area = chart.chartArea;
    if (b.x > area.right || b.y < area.top || b.y > area.bottom) return;
    const ds = chart.data.datasets[args.index];
    const s = ds.arrowSize;
    const ang = Math.atan2(b.y - a.y, b.x - a.x);
    const ctx = chart.ctx;
    ctx.save();
    ctx.translate(b.x, b.y);
    ctx.rotate(ang);
    ctx.fillStyle = ds.arrowColor;
    ctx.beginPath();
    ctx.moveTo(s * 0.6, 0);
    ctx.lineTo(-s * 0.9, -s * 0.75);
    ctx.lineTo(-s * 0.9, s * 0.75);
    ctx.closePath();
    ctx.fill();
    ctx.restore();
  }
};

const textBits = {
  id: 'textBits',
  afterDraw(chart) {
    const { ctx, scales: { x, y } } = chart;
    ctx.save();
    // axis titles
    ctx.fillStyle = '#333';
    ctx.font = '17px Lato';
    ctx.textAlign = 'center';
    ctx.textBaseline = 'middle';
    ctx.fillText('Days since confirmed cases first reached 30 per day', 474, 508);
    ctx.save();
    ctx.translate(18, 264);
    ctx.rotate(-Math.PI / 2);
    ctx.fillText('Daily confirmed cases (7-day average)', 0, 0);
    ctx.restore();

    // country names at line ends
    ctx.font = 'bold 15px "Liberation Sans", Arial, sans-serif';
    ctx.textAlign = 'left';
    countryLabels.forEach(l => {
      ctx.fillStyle = l.color;
      ctx.fillText(l.name, x.getPixelForValue(l.day), y.getPixelForValue(l.cases));
    });

    // start values
    ctx.font = '12px Lato';
    const x0 = x.getPixelForValue(0);
    const y34 = y.getPixelForValue(49);
    ctx.fillStyle = 'rgba(255,255,255,0.9)';
    ctx.fillRect(x0 + 4, y34 - 7, 14, 13);
    ctx.fillStyle = '#e8323c';
    ctx.beginPath(); ctx.arc(x0 + 1, y34, 3.5, 0, Math.PI * 2); ctx.fill();
    ctx.fillStyle = '#7f9fd5';
    ctx.fillText('34', x0 + 5, y34);
    ctx.fillText('33', x0 + 2, y.getPixelForValue(25));
    ctx.restore();
  }
};

new Chart(document.getElementById('chart').getContext('2d'), {
  type: 'line',
  data: { datasets },
  options: {
    responsive: false,
    animation: false,
    events: [],
    layout: { padding: { top: 12, right: 15, left: 0, bottom: 0 } },
    plugins: { legend: { display: false }, tooltip: { enabled: false } },
    elements: { line: { tension: 0, borderCapStyle: 'round', borderJoinStyle: 'round' } },
    scales: {
      x: {
        type: 'linear',
        min: 0,
        max: 361.7,
        afterBuildTicks: s => { s.ticks = xTicks.map(v => ({ value: v })); },
        afterFit: s => { s.height = 58; },
        ticks: { color: '#666', font: { family: 'Lato', size: 21 }, padding: 9, maxRotation: 0 },
        grid: { color: '#d8d8d8', drawTicks: false },
        border: { display: false, dash: [4, 4] }
      },
      y: {
        type: 'logarithmic',
        min: 0.143,
        max: 240000,
        afterBuildTicks: s => { s.ticks = yTicks.map(v => ({ value: v })); },
        afterFit: s => { s.width = 126.7; },
        ticks: {
          color: '#666',
          font: { family: 'Lato', size: 21 },
          padding: 8,
          callback: v => v.toLocaleString('en-US')
        },
        grid: { color: '#d8d8d8', drawTicks: false },
        border: { display: true, color: '#cfcfcf', width: 1, dash: [4, 4] }
      }
    }
  },
  plugins: [arrowHeads, textBits]
});
</script>
</body>
</html>
